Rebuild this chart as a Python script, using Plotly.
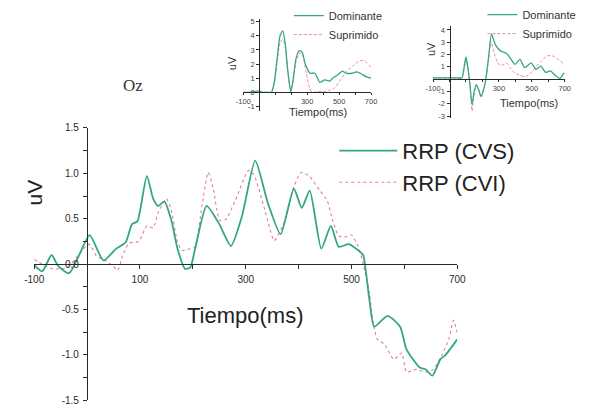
import plotly.graph_objects as go

# ---------------- data ----------------
# Main panel: Oz, RRP (CVS) and RRP (CVI)
t_cvs = [-100, -85, -67, -55, -34, -15, 5, 31, 55, 73, 85, 95, 113, 125, 134, 146, 159, 171,
         185, 195, 204, 226, 250, 272, 293, 318, 342, 366, 391, 406, 421, 443, 461, 476, 495,
         513, 522, 528, 534, 543, 568, 592, 604, 629, 640, 653, 668, 678, 690, 700]
v_cvs = [-0.01, -0.08, 0.10, -0.02, -0.10, 0.10, 0.32, 0.04, 0.17, 0.24, 0.44, 0.47, 0.97, 0.72,
         0.64, 0.69, 0.49, 0.17, -0.05, -0.04, 0.16, 0.64, 0.44, 0.20, 0.53, 1.14, 0.67, 0.33,
         0.83, 0.62, 0.81, 0.17, 0.42, 0.19, 0.22, 0.15, 0.10, -0.12, -0.40, -0.69, -0.57, -0.69,
         -0.94, -1.14, -1.16, -1.23, -1.05, -1.00, -0.91, -0.83]

t_cvi = [-100, -85, -67, -45, -32, -19, 4, 18, 37, 49, 58, 67, 79, 98, 113, 125, 134, 150, 159,
         171, 180, 195, 204, 217, 229, 238, 251, 262, 281, 305, 315, 336, 354, 372, 391, 405, 420,
         440, 454, 464, 476, 488, 500, 513, 525, 534, 540, 549, 562, 580, 595, 604, 622, 640, 655,
         671, 684, 693, 700]
v_cvi = [0.05, 0.00, -0.05, -0.05, -0.01, 0.08, 0.22, 0.09, 0.03, -0.02, -0.07, 0.09, 0.23, 0.25,
         0.42, 0.40, 0.56, 0.72, 0.60, 0.24, 0.15, 0.17, 0.19, 0.63, 1.01, 0.85, 0.48, 0.49, 0.71,
         1.03, 0.99, 0.60, 0.26, 0.45, 0.85, 1.01, 0.97, 0.81, 0.70, 0.49, 0.31, 0.30, 0.32, 0.19,
         -0.07, -0.32, -0.61, -0.83, -0.88, -1.05, -0.98, -1.19, -1.16, -1.19, -1.16, -1.00, -0.83,
         -0.62, -0.76]

# Inset 1 (left top)
t_dom1 = [-100, -60, -30, 0, 20, 40, 60, 76, 95, 111, 130, 147, 162, 178, 197, 212, 231, 252,
          270, 288, 318, 348, 379, 409, 439, 460, 490, 520, 545, 580, 610, 640, 670, 700]
v_dom1 = [0.0, 0.0, 0.05, 0.1, 0.0, 0.0, 0.0, 0.0, 0.8, 2.3, 4.0, 4.35, 3.5, 1.6, 0.05, 0.9,
          2.45, 2.95, 2.8, 2.0, 1.35, 1.35, 0.7, 0.88, 0.8, 1.0, 1.23, 1.5, 1.35, 1.35, 1.45,
          1.3, 1.1, 1.0]
t_sup1 = [-100, -60, -30, 0, 20, 40, 60, 76, 95, 111, 130, 147, 162, 178, 197, 212, 231, 255,
          275, 295, 315, 330, 360, 400, 440, 470, 510, 548, 591, 631, 661, 692, 700]
v_sup1 = [0.0, 0.0, 0.0, 0.05, 0.0, 0.0, 0.0, 0.0, 0.7, 2.0, 3.5, 3.75, 3.2, 1.5, 0.05, 0.8,
          2.2, 2.8, 2.5, 1.3, 0.3, 0.0, 0.05, 0.05, 0.15, 0.3, 0.9, 1.5, 1.9, 2.25, 2.2, 1.86, 1.8]

# Inset 2 (right top)
t_dom2 = [-100, -50, 0, 50, 75, 88, 100, 112, 124, 137, 150, 163, 178, 192, 212, 222, 241, 255,
          280, 310, 345, 370, 398, 428, 457, 496, 525, 555, 584, 614, 643, 672, 692, 700]
v_dom2 = [0.1, 0.1, 0.1, 0.1, 0.1, 0.9, 1.8, 0.9, -0.4, -2.05, -1.0, -0.45, -0.9, -1.4, -0.6,
          0.1, 2.2, 3.67, 2.76, 2.3, 2.1, 1.7, 1.2, 1.6, 0.94, 1.33, 0.8, 1.05, 0.55, 0.68, 0.29,
          0.05, 0.44, 0.5]
t_sup2 = [-100, -50, 0, 50, 75, 88, 100, 112, 124, 137, 150, 163, 178, 192, 212, 222, 241, 251,
          270, 290, 310, 330, 349, 370, 388, 428, 460, 490, 525, 560, 594, 624, 672, 700]
v_sup2 = [0.1, 0.1, 0.1, 0.1, 0.1, 0.8, 1.6, 0.8, -0.5, -2.6, -1.2, -0.5, -0.9, -1.5, -0.6, 0.1,
          2.0, 3.1, 2.2, 1.4, 1.1, 1.2, 1.3, 0.9, 0.6, 0.3, 0.2, 0.45, 1.0, 1.5, 1.9, 1.9, 1.5, 1.2]

main_y_ticks = [-1.5, -1.25, -1.0, -0.75, -0.5, -0.25, 0.0, 0.25, 0.5, 0.75, 1.0, 1.25, 1.5]
main_y_text = ["-1.5", "", "-1.0", "", "-0.5", "", "0.0", "", "0.5", "", "1.0", "", "1.5"]
main_x_ticks = [-100, 0, 100, 200, 300, 400, 500, 600, 700]
main_x_text = ["-100", "", "100", "", "300", "", "500", "", "700"]
in1_y_ticks = [-1, 0, 1, 2, 3, 4, 5]
in1_y_text = ["-1", "0", "1", "2", "3", "4", "5"]
in2_y_ticks = [-3, -2, -1, 0, 1, 2, 3, 4]
in2_y_text = ["-3", "-2", "-1", "", "1", "2", "3", "4"]
in_x_ticks = [-100, 0, 100, 200, 300, 400, 500, 600, 700]
in_x_text = ["-100", "", "", "", "300", "", "500", "", "700"]

# ---------------- styling / layout ----------------
W, H = 595, 413
GREEN = "#33a87a"
RED = "#e0808e"
AX = "#2a2a2a"
SANS = "Arial, Liberation Sans, sans-serif"


def fx(px):
    return px / W


def fy(py):
    return 1 - py / H


def dom_pos(lo, hi, rng, v):
    return lo + (v - rng[0]) / (rng[1] - rng[0]) * (hi - lo)


XR = [-100, 700]
YR = [-1.5, 1.5]
mx = [fx(25), fx(462)]
my = [fy(405), fy(126)]
in1x = [fx(241), fx(373)]
in1yr = [-1.3, 5.2]
in1y = [fy(108.4), fy(14.1)]
in2x = [fx(437), fx(573)]
in2yr = [-3.2, 4.3]
in2y = [fy(116.3), fy(21.8)]

fig = go.Figure()

fig.add_trace(go.Scatter(x=t_cvi, y=v_cvi, mode="lines", name="RRP (CVI)", legendrank=2,
                         line=dict(color=RED, width=1.1, dash="dot", shape="spline", smoothing=0.6),
                         xaxis="x", yaxis="y", legend="legend"))
fig.add_trace(go.Scatter(x=t_cvs, y=v_cvs, mode="lines", name="RRP (CVS)", legendrank=1,
                         line=dict(color=GREEN, width=1.8, shape="spline", smoothing=0.6),
                         xaxis="x", yaxis="y", legend="legend"))

fig.add_trace(go.Scatter(x=t_sup1, y=v_sup1, mode="lines", name="Suprimido", legendrank=2,
                         line=dict(color=RED, width=0.9, dash="3px,2px", shape="spline", smoothing=0.6),
                         xaxis="x2", yaxis="y2", legend="legend2"))
fig.add_trace(go.Scatter(x=t_dom1, y=v_dom1, mode="lines", name="Dominante", legendrank=1,
                         line=dict(color=GREEN, width=1.3, shape="spline", smoothing=0.6),
                         xaxis="x2", yaxis="y2", legend="legend2"))

fig.add_trace(go.Scatter(x=t_sup2, y=v_sup2, mode="lines", name="Suprimido", legendrank=2,
                         line=dict(color=RED, width=0.9, dash="3px,2px", shape="spline", smoothing=0.6),
                         xaxis="x3", yaxis="y3", legend="legend3"))
fig.add_trace(go.Scatter(x=t_dom2, y=v_dom2, mode="lines", name="Dominante", legendrank=1,
                         line=dict(color=GREEN, width=1.3, shape="spline", smoothing=0.6),
                         xaxis="x3", yaxis="y3", legend="legend3"))

common = dict(showgrid=False, zeroline=False, showline=True, linecolor=AX, tickcolor=AX)

fig.update_layout(
    width=W, height=H, margin=dict(l=0, r=0, t=0, b=0),
    paper_bgcolor="white", plot_bgcolor="rgba(0,0,0,0)",
    font=dict(family=SANS, color=AX),
    xaxis=dict(**common, domain=mx, range=XR, anchor="free",
               position=dom_pos(my[0], my[1], YR, 0), linewidth=1.3,
               tickmode="array", tickvals=main_x_ticks, ticktext=main_x_text,
               ticks="outside", ticklen=4, tickwidth=1.2, ticklabelstandoff=2,
               tickfont=dict(size=10, color=AX)),
    yaxis=dict(**common, domain=my, range=YR, anchor="free",
               position=dom_pos(mx[0], mx[1], XR, 0), linewidth=1.3,
               tickmode="array", tickvals=main_y_ticks, ticktext=main_y_text,
               ticks="outside", ticklen=4, tickwidth=1.2, ticklabelstandoff=2,
               tickfont=dict(size=10, color=AX)),
    xaxis4=dict(showgrid=False, zeroline=False, showline=False, overlaying="x", anchor="free",
                position=dom_pos(my[0], my[1], YR, 0), range=XR, domain=mx,
                tickmode="array", tickvals=main_x_ticks, showticklabels=False,
                ticks="inside", ticklen=4, tickwidth=1.2, tickcolor=AX),
    yaxis4=dict(showgrid=False, zeroline=False, showline=False, overlaying="y", anchor="free",
                position=dom_pos(mx[0], mx[1], XR, 0), range=YR, domain=my,
                tickmode="array", tickvals=main_y_ticks, showticklabels=False,
                ticks="inside", ticklen=4, tickwidth=1.2, tickcolor=AX),
    xaxis2=dict(**common, domain=in1x, range=XR, anchor="free",
                position=dom_pos(in1y[0], in1y[1], in1yr, 0), linewidth=1,
                tickmode="array", tickvals=in_x_ticks, ticktext=in_x_text,
                ticks="outside", ticklen=2, tickwidth=0.8, ticklabelstandoff=0,
                tickfont=dict(size=7.5, color="#444")),
    yaxis2=dict(**common, domain=in1y, range=in1yr, anchor="free",
                position=dom_pos(in1x[0], in1x[1], XR, 0), linewidth=1,
                tickmode="array", tickvals=in1_y_ticks, ticktext=in1_y_text,
                ticks="outside", ticklen=3, tickwidth=0.8, ticklabelstandoff=0,
                tickfont=dict(size=7.5, color="#444")),
    xaxis3=dict(**common, domain=in2x, range=XR, anchor="free",
                position=dom_pos(in2y[0], in2y[1], in2yr, 0), linewidth=1,
                tickmode="array", tickvals=in_x_ticks, ticktext=in_x_text,
                ticks="outside", ticklen=2, tickwidth=0.8, ticklabelstandoff=0,
                tickfont=dict(size=7.5, color="#444")),
    yaxis3=dict(**common, domain=in2y, range=in2yr, anchor="free",
                position=dom_pos(in2x[0], in2x[1], XR, 0), linewidth=1,
                tickmode="array", tickvals=in2_y_ticks, ticktext=in2_y_text,
                ticks="outside", ticklen=3, tickwidth=0.8, ticklabelstandoff=0,
                tickfont=dict(size=7.5, color="#444")),
    legend=dict(x=fx(335), y=fy(128), xanchor="left", yanchor="top", bgcolor="rgba(0,0,0,0)",
                itemwidth=58, font=dict(size=22, color="#222", family=SANS), borderwidth=0),
    legend2=dict(x=fx(288), y=fy(-4), xanchor="left", yanchor="top", bgcolor="rgba(0,0,0,0)",
                 itemwidth=30, font=dict(size=11, color="#333", family=SANS), borderwidth=0),
    legend3=dict(x=fx(488), y=fy(-5), xanchor="left", yanchor="top", bgcolor="rgba(0,0,0,0)",
                 itemwidth=30, font=dict(size=11, color="#333", family=SANS), borderwidth=0),
    showlegend=True,
)

annots = [
    dict(text="Oz", x=fx(127), y=fy(82), font=dict(size=17, family="Liberation Serif, Times New Roman, serif", color="#333")),
    dict(text="uV", x=fx(25), y=fy(192), textangle=-90, font=dict(size=21, color="#222")),
    dict(text="Tiempo(ms)", x=fx(243), y=fy(318), font=dict(size=22, color="#222")),
    dict(text="uV", x=fx(229), y=fy(60), textangle=-90, font=dict(size=11, color="#333")),
    dict(text="Tiempo(ms)", x=fx(318), y=fy(110), font=dict(size=11, color="#333")),
    dict(text="uV", x=fx(435), y=fy(45), textangle=-90, font=dict(size=11, color="#333")),
    dict(text="Tiempo(ms)", x=fx(536), y=fy(100), font=dict(size=11, color="#333")),
]
for a in annots:
    fig.add_annotation(xref="paper", yref="paper", showarrow=False, xanchor="center",
                       yanchor="middle", **a)

fig.write_html("out.html")
